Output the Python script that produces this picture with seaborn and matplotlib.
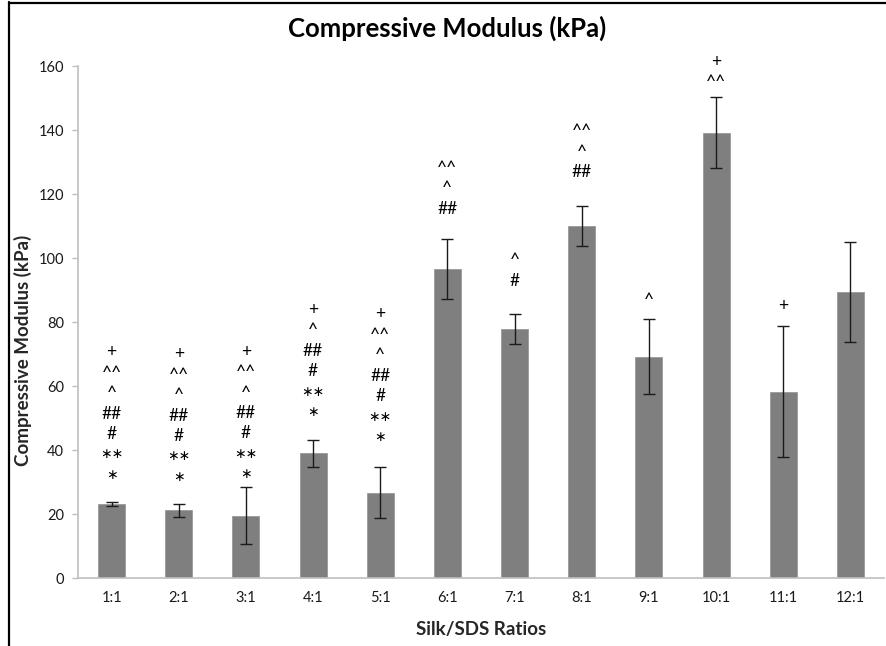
import matplotlib
matplotlib.use("Agg")
import matplotlib.pyplot as plt
from matplotlib.lines import Line2D
import numpy as np
import pandas as pd
import seaborn as sns

# Compressive modulus of silk/SDS hydrogels (mean ± SD, kPa)
ratios = ["1:1", "2:1", "3:1", "4:1", "5:1", "6:1", "7:1", "8:1", "9:1", "10:1", "11:1", "12:1"]
modulus = [23.0, 21.2, 19.5, 39.0, 26.7, 96.6, 77.7, 110.0, 69.2, 139.2, 58.2, 89.4]
std_dev = [0.6, 2.0, 9.0, 4.2, 8.0, 9.4, 4.7, 6.3, 11.7, 11.1, 20.4, 15.5]

# Significance markers, listed from the bottom of each stack upwards
significance = [
    ["*", "**", "#", "##", "^", "^^", "+"],
    ["*", "**", "#", "##", "^", "^^", "+"],
    ["*", "**", "#", "##", "^", "^^", "+"],
    ["*", "**", "#", "##", "^", "+"],
    ["*", "**", "#", "##", "^", "^^", "+"],
    ["##", "^", "^^"],
    ["#", "^"],
    ["##", "^", "^^"],
    ["^"],
    ["^^", "+"],
    ["+"],
    [],
]

# Baseline of the lowest marker in each stack (axis units) and line pitch
marker_base = [30.6, 30.0, 30.8, 50.2, 42.4, 113.8, 91.3, 125.3, 85.3, 153.4, 83.4, 0]
marker_pitch = 6.4

df = pd.DataFrame({"ratio": ratios, "modulus": modulus, "sd": std_dev})

sns.set_style("white")
plt.rcParams["font.family"] = ["Lato", "DejaVu Sans"]

W, H = 886, 646
fig = plt.figure(figsize=(W / 100, H / 100), dpi=100)
ax = fig.add_axes([78 / W, 68 / H, 806 / W, 512 / H])

sns.barplot(data=df, x="ratio", y="modulus", order=ratios, color="#7f7f7f",
            saturation=1, width=0.4, errorbar=None, ax=ax, zorder=2)
for p in ax.patches:
    p.set_edgecolor("#9a9a9a")
    p.set_linewidth(0.6)

xpos = np.arange(len(ratios))
ax.errorbar(xpos, df["modulus"], yerr=df["sd"], fmt="none", ecolor="#1a1a1a",
            elinewidth=1.0, capsize=4, capthick=1.0, zorder=3)

for i, marks in enumerate(significance):
    for j, m in enumerate(marks):
        y = marker_base[i] + j * marker_pitch
        if "*" in m:
            ax.text(xpos[i], y + 0.4, m.replace("*", "\u2217"),
                    ha="center", va="baseline", fontsize=10, color="black",
                    family=["DejaVu Sans"], clip_on=False)
        else:
            ax.text(xpos[i], y, m, ha="center", va="baseline", fontsize=12.5,
                    color="black", clip_on=False)

ax.set_xlim(-0.5, len(ratios) - 0.5)
ax.set_ylim(0, 160)
ax.set_yticks(np.arange(0, 161, 20))
ax.tick_params(axis="y", which="major", direction="out", length=4, width=1,
               color="#bfbfbf", labelsize=10.5, labelcolor="#1a1a1a", pad=6, left=True)
ax.tick_params(axis="x", length=0, labelsize=10.5, labelcolor="#1a1a1a", pad=9)

for side in ("top", "right"):
    ax.spines[side].set_visible(False)
for side in ("left", "bottom"):
    ax.spines[side].set_color("#bfbfbf")
    ax.spines[side].set_linewidth(1.2)

ax.set_xlabel("Silk/SDS Ratios", fontsize=13.5, fontweight="bold")
ax.xaxis.set_label_coords(0.5, -(630 - 578) / 512, transform=ax.transAxes)
ax.xaxis.label.set_va("center")
ax.set_ylabel("Compressive Modulus (kPa)", fontsize=13.5, fontweight="bold")
ax.yaxis.set_label_coords(-(78 - 23) / 806, (578 - 350) / 512, transform=ax.transAxes)
ax.yaxis.label.set_va("center")
fig.text(447 / W, 1 - 28 / H, "Compressive Modulus (kPa)", ha="center", va="center",
         fontsize=18.5, fontweight="bold", color="black")

# Outer frame: left and top edges only
fig.add_artist(Line2D([8.5 / W, 8.5 / W], [0, 1 - 2 / H], color="black", lw=1.6,
                      transform=fig.transFigure))
fig.add_artist(Line2D([8.5 / W, 1], [1 - 3 / H, 1 - 3 / H], color="black", lw=1.6,
                      transform=fig.transFigure))

fig.savefig("out.png", dpi=100, facecolor="white")
